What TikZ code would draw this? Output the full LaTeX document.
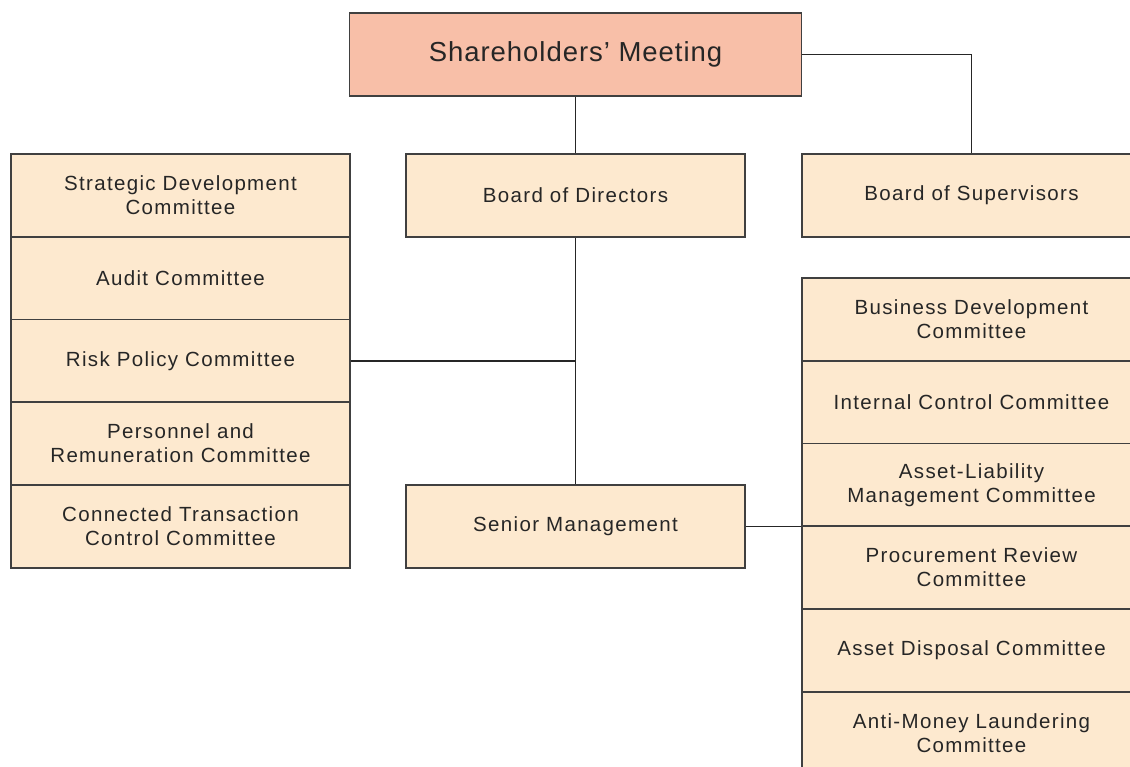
\documentclass[tikz,border=0pt]{standalone}
\usepackage{fontspec}
\setmainfont{Liberation Sans}
\newfontfamily\boxfont[LetterSpace=6.5]{Liberation Sans}
\newfontfamily\titlefont[LetterSpace=3.5]{Liberation Sans}
\definecolor{boxfill}{HTML}{FDE9CF}
\definecolor{topfill}{HTML}{F8BFA8}
\definecolor{edge}{HTML}{404040}
\definecolor{ink}{HTML}{262626}
\begin{document}
\begin{tikzpicture}[x=1pt,y=-1pt,
  unit/.style={draw=edge, line width=1.6pt, fill=boxfill, text=ink,
    minimum width=339pt, minimum height=83pt, inner sep=0pt,
    align=center, font=\boxfont\fontsize{20.5}{24}\selectfont},
  top/.style={unit, fill=topfill, minimum width=452pt,
    font=\titlefont\fontsize{27.5}{32}\selectfont},
  link/.style={draw=ink, line width=1.3pt}]
\useasboundingbox (0,0) rectangle (1130,767);
\clip (0,0) rectangle (1130,767);

% governing bodies
\node[top]  (sh)  at (575.5,54.5)  {Shareholders’ Meeting};
\node[unit] (bod) at (575.5,195.5) {Board of Directors};
\node[unit] (bos) at (971.5,195.5) {Board of Supervisors};
\node[unit] (sm)  at (575.5,526.5) {Senior Management};

% board committees
\node[unit] (c1) at (180.5,195.5) {Strategic Development\\Committee};
\node[unit] (c2) at (180.5,278.5) {Audit Committee};
\node[unit] (c3) at (180.5,361)   {Risk Policy Committee};
\node[unit] (c4) at (180.5,443.5) {Personnel and\\Remuneration Committee};
\node[unit] (c5) at (180.5,526.5) {Connected Transaction\\Control Committee};

% management committees
\node[unit] (m1) at (971.5,319.5) {Business Development\\Committee};
\node[unit] (m2) at (971.5,402.5) {Internal Control Committee};
\node[unit] (m3) at (971.5,485)   {Asset-Liability\\Management Committee};
\node[unit] (m4) at (971.5,567.5) {Procurement Review\\Committee};
\node[unit] (m5) at (971.5,650.5) {Asset Disposal Committee};
\node[unit] (m6) at (971.5,733.5) {Anti-Money Laundering\\Committee};

% reporting lines
\coordinate (trunk) at (bod.south |- c3.east);
\draw[link] (sh.south) -- (bod.north);
\draw[link] (sh.east) -| (bos.north);
\draw[link] (bod.south) -- (sm.north);
\draw[link] (c3.east) -- (trunk);
\draw[link] (sm.east) -- (sm.east -| m4.west);
\end{tikzpicture}
\end{document}
